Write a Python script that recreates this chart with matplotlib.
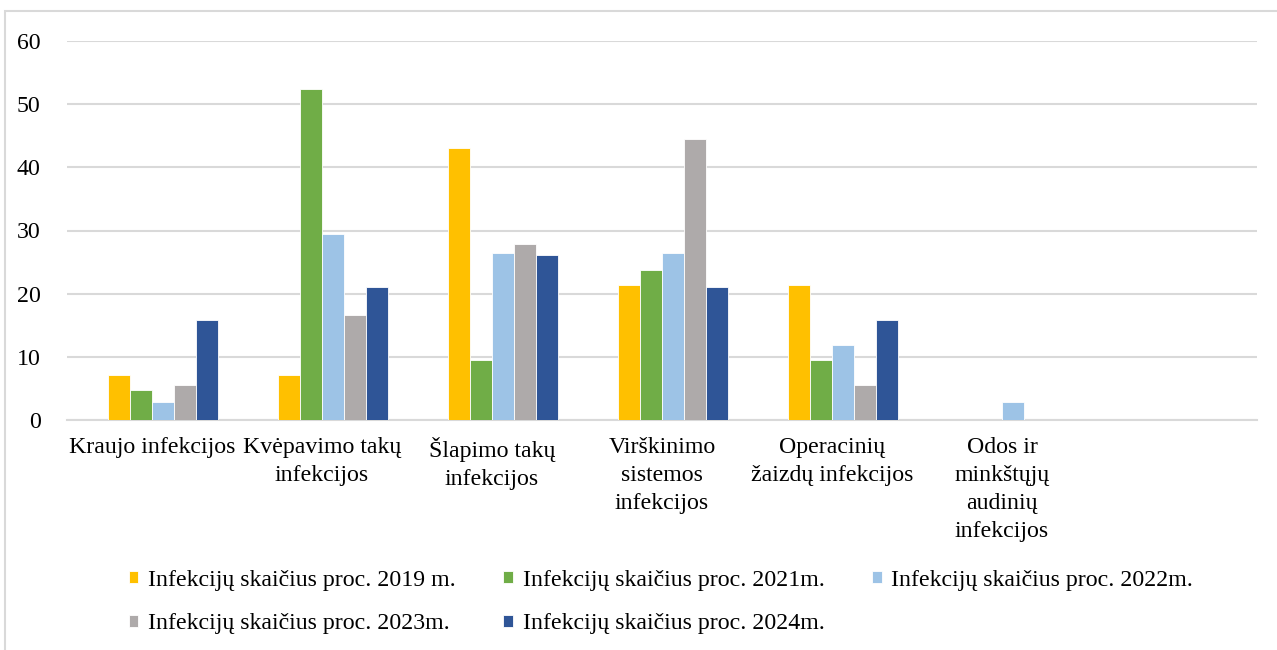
import numpy as np
import matplotlib.pyplot as plt
from matplotlib.patches import Rectangle

plt.rcParams['font.family'] = ['Liberation Serif', 'DejaVu Serif']

categories = [
    'Kraujo infekcijos',
    'Kvėpavimo takų\ninfekcijos',
    'Šlapimo takų\ninfekcijos',
    'Virškinimo\nsistemos\ninfekcijos',
    'Operacinių\nžaizdų infekcijos',
    'Odos ir\nminkštųjų\naudinių\ninfekcijos',
    '',
]
series_names = [
    'Infekcijų skaičius proc. 2019 m.',
    'Infekcijų skaičius proc. 2021m.',
    'Infekcijų skaičius proc. 2022m.',
    'Infekcijų skaičius proc. 2023m.',
    'Infekcijų skaičius proc. 2024m.',
]
v2019 = [7.1, 7.1, 43.0, 21.4, 21.4, 0, 0]
v2021 = [4.8, 52.4, 9.5, 23.8, 9.5, 0, 0]
v2022 = [2.9, 29.4, 26.5, 26.5, 11.8, 2.9, 0]
v2023 = [5.5, 16.7, 27.8, 44.5, 5.5, 0, 0]
v2024 = [15.8, 21.1, 26.2, 21.1, 15.8, 0, 0]
values = [v2019, v2021, v2022, v2023, v2024]
colors = ['#FFC000', '#70AD47', '#9DC3E6', '#AEAAAA', '#2F5597']

FS = 17.2

fig = plt.figure(figsize=(12.77, 6.5), dpi=100)
ax = fig.add_axes([67 / 1277, 1 - 420 / 650, (1257 - 67) / 1277, (420 - 41) / 650])

# light frame round the whole chart
fig.patches.append(Rectangle((5 / 1277, -0.05), 1.1, 1 - 11 / 650 + 0.05,
                             transform=fig.transFigure, fill=False,
                             edgecolor='#D9D9D9', linewidth=1.5))

x = np.arange(len(categories))
width = 0.13
handles = []
for i, (vals, col, name) in enumerate(zip(values, colors, series_names)):
    # groups sit a little right of the category centre, as in the original
    b = ax.bar(x + (i - 1.5) * width, vals, width, color=col, label=name,
               edgecolor='white', linewidth=0.6, zorder=3)
    handles.append(b)

ax.set_xlim(-0.5, len(categories) - 0.5)
ax.set_ylim(0, 60)
ax.set_yticks(range(0, 61, 10))
ax.yaxis.grid(True, color='#D9D9D9', linewidth=1.5, zorder=0)
ax.set_axisbelow(True)
ax.set_xticks(x)
ax.set_xticklabels(categories, fontsize=FS, linespacing=1.45)
ax.tick_params(axis='x', length=0, pad=12)
ax.tick_params(axis='y', length=0, pad=19, labelsize=FS)
for s in ['top', 'right', 'left']:
    ax.spines[s].set_visible(False)
ax.spines['bottom'].set_color('#D9D9D9')
ax.spines['bottom'].set_linewidth(1.5)

# row-major order for a 3-column legend
order = [0, 3, 1, 4, 2]
fig.legend([handles[k] for k in order], [series_names[k] for k in order],
           loc='center', bbox_to_anchor=(661 / 1277, 1 - 602 / 650), ncol=3,
           frameon=False, fontsize=FS, handlelength=0.4, handleheight=0.4,
           handletextpad=0.4, columnspacing=2.0, labelspacing=0.95)

fig.savefig('out.png', dpi=100)
